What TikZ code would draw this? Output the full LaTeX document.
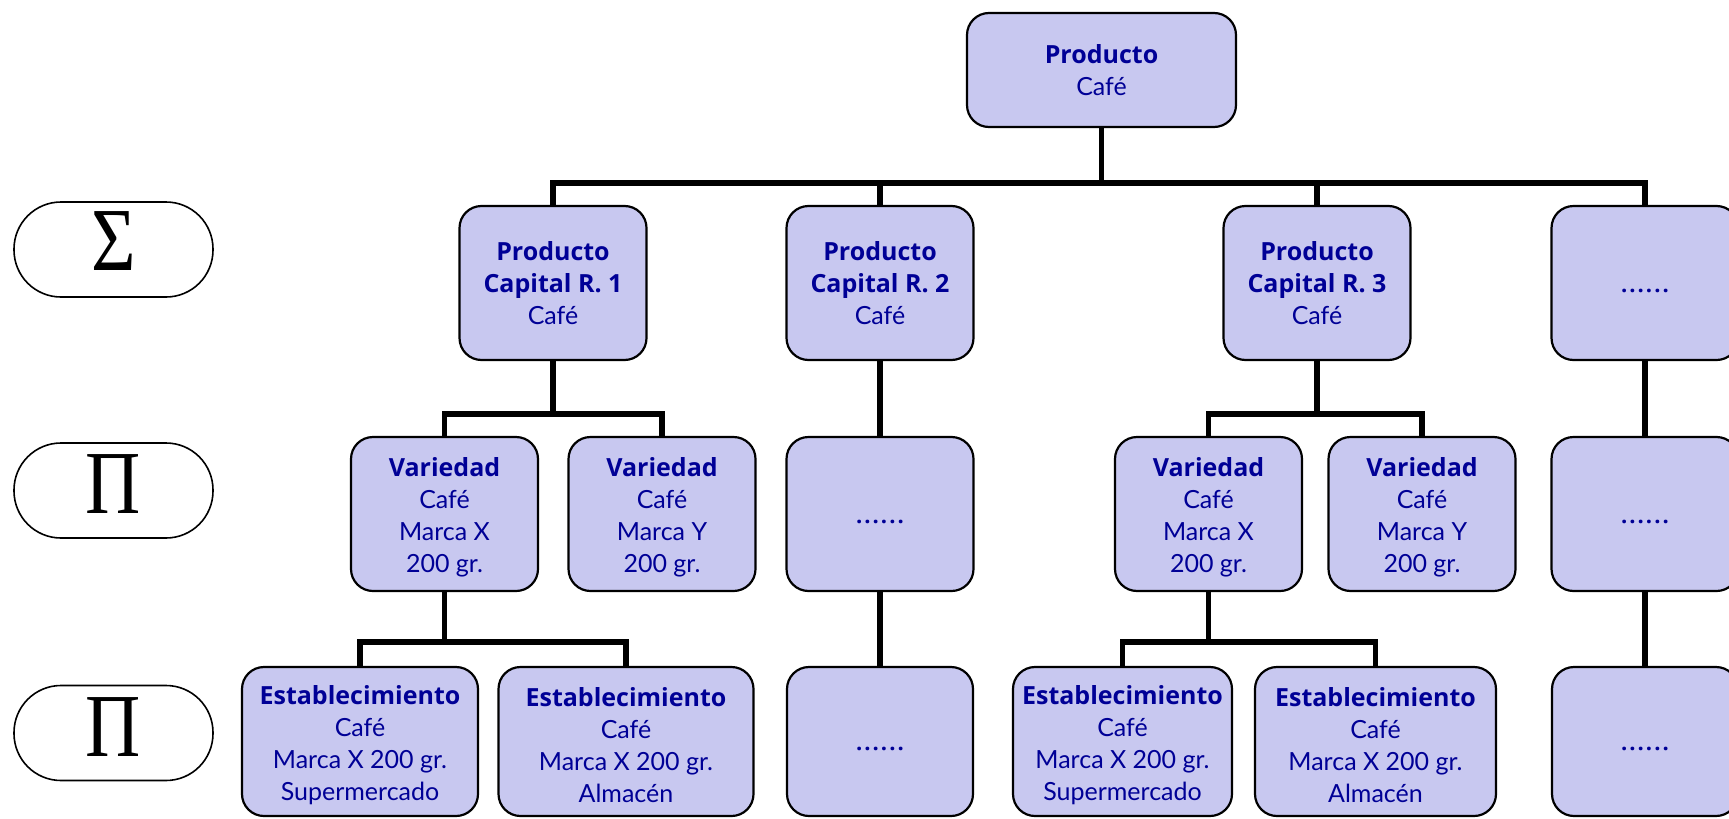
\documentclass[tikz,border=0pt]{standalone}
\usepackage{fontspec}
\setmainfont{Lato}
\newfontfamily\greekfont{Liberation Serif}
\newfontfamily\headfont{Open Sans}
\newcommand{\hd}[1]{{\headfont\bfseries\fontsize{25}{32}\selectfont #1}}
\newcommand{\hdlow}[1]{{\headfont\bfseries\fontsize{25}{32}\selectfont\rule{0pt}{25.5pt}#1}}
\newcommand{\dotsrow}{{\headfont\bfseries\fontsize{22}{32}\selectfont .\kern2pt.\kern2pt.\kern2pt.\kern2pt.\kern2pt.}}
\definecolor{boxfill}{RGB}{200,200,240}
\definecolor{txtblue}{RGB}{0,0,150}
\tikzset{
  box/.style={draw=black, line width=2.2pt, rounded corners=22pt, fill=boxfill,
    text=txtblue, align=center, inner sep=0pt,
    font=\fontsize{25}{32}\selectfont},
  lvlone/.style={box, minimum width=187pt, minimum height=154pt},
  lvltwo/.style={box, minimum width=187pt, minimum height=154pt},
  lvlthree/.style={box, minimum height=149pt},
  dotbox/.style={text height=18pt, text depth=0pt},
  link/.style={draw=black, line width=5.5pt, line join=miter},
  sym/.style={draw=black, line width=1.6pt, rounded corners=47pt,
    minimum width=199pt, minimum height=95pt, inner sep=0pt},
  symtext/.style={font=\greekfont\fontsize{90}{90}\selectfont, inner sep=0pt, xscale=0.85}
}
\begin{document}
\begin{tikzpicture}[x=1pt,y=-1pt]
\useasboundingbox (0,0) rectangle (1729,819);

% side symbols
\node[sym] (s1) at (113.5,249.5) {};
\node[symtext] (t1) at (113.5,241) {Σ};
\node[sym] (s2) at (113.5,490.5) {};
\node[symtext] (t2) at (113.5,484) {Π};
\node[sym] (s3) at (113.5,733) {};
\node[symtext] (t3) at (113.5,727) {Π};

% top
\node[box, minimum width=269pt, minimum height=114pt] (top) at (1101.5,70)
  {\hd{Producto}\\Café};

% level 1
\node[lvlone] (r1) at (553,283) {\hd{Producto}\\\hd{Capital R. 1}\\Café};
\node[lvlone] (r2) at (880,283) {\hd{Producto}\\\hd{Capital R. 2}\\Café};
\node[lvlone] (r3) at (1317,283) {\hd{Producto}\\\hd{Capital R. 3}\\Café};
\node[lvlone, dotbox] (r4) at (1645,283) {\dotsrow};

% level 2
\node[lvltwo] (v1) at (444.5,514) {\hdlow{Variedad}\\Café\\Marca X\\200 gr.};
\node[lvltwo] (v2) at (662,514) {\hdlow{Variedad}\\Café\\Marca Y\\200 gr.};
\node[lvltwo, dotbox] (v3) at (880,514) {\dotsrow};
\node[lvltwo] (v4) at (1208.5,514) {\hdlow{Variedad}\\Café\\Marca X\\200 gr.};
\node[lvltwo] (v5) at (1422,514) {\hdlow{Variedad}\\Café\\Marca Y\\200 gr.};
\node[lvltwo, dotbox] (v6) at (1645,514) {\dotsrow};

% level 3
\node[lvlthree, minimum width=236pt] (e1) at (360,741.5)
  {\hdlow{Establecimiento}\\Café\\Marca X 200 gr.\\Supermercado};
\node[lvlthree, minimum width=255pt] (e2) at (626,741.5)
  {\hdlow{Establecimiento}\\Café\\Marca X 200 gr.\\Almacén};
\node[lvlthree, dotbox, minimum width=186pt] (e3) at (880,741.5) {\dotsrow};
\node[lvlthree, minimum width=219pt] (e4) at (1122.5,741.5)
  {\hdlow{Establecimiento}\\Café\\Marca X 200 gr.\\Supermercado};
\node[lvlthree, minimum width=241pt] (e5) at (1375.5,741.5)
  {\hdlow{Establecimiento}\\Café\\Marca X 200 gr.\\Almacén};
\node[lvlthree, dotbox, minimum width=186pt] (e6) at (1645,741.5) {\dotsrow};

% connectors
\coordinate (b0) at (1101.5,183);
\draw[link] (top.south) -- (b0);
\draw[link] (r1.north) |- (b0);
\draw[link] (r4.north) |- (b0);
\draw[link] (r2.north) -- (r2.north |- b0);
\draw[link] (r3.north) -- (r3.north |- b0);

\coordinate (b1) at (553,414);
\draw[link] (r1.south) -- (b1);
\draw[link] (v1.north) |- (b1);
\draw[link] (v2.north) |- (b1);

\coordinate (b2) at (1317,414);
\draw[link] (r3.south) -- (b2);
\draw[link] (v4.north) |- (b2);
\draw[link] (v5.north) |- (b2);

\draw[link] (r2.south) -- (v3.north);
\draw[link] (r4.south) -- (v6.north);
\draw[link] (v3.south) -- (e3.north);
\draw[link] (v6.south) -- (e6.north);

\coordinate (b3) at (444.5,642);
\draw[link] (v1.south) -- (b3);
\draw[link] (e1.north) |- (b3);
\draw[link] (e2.north) |- (b3);

\coordinate (b4) at (1208.5,642);
\draw[link] (v4.south) -- (b4);
\draw[link] (e4.north) |- (b4);
\draw[link] (e5.north) |- (b4);
\end{tikzpicture}
\end{document}
